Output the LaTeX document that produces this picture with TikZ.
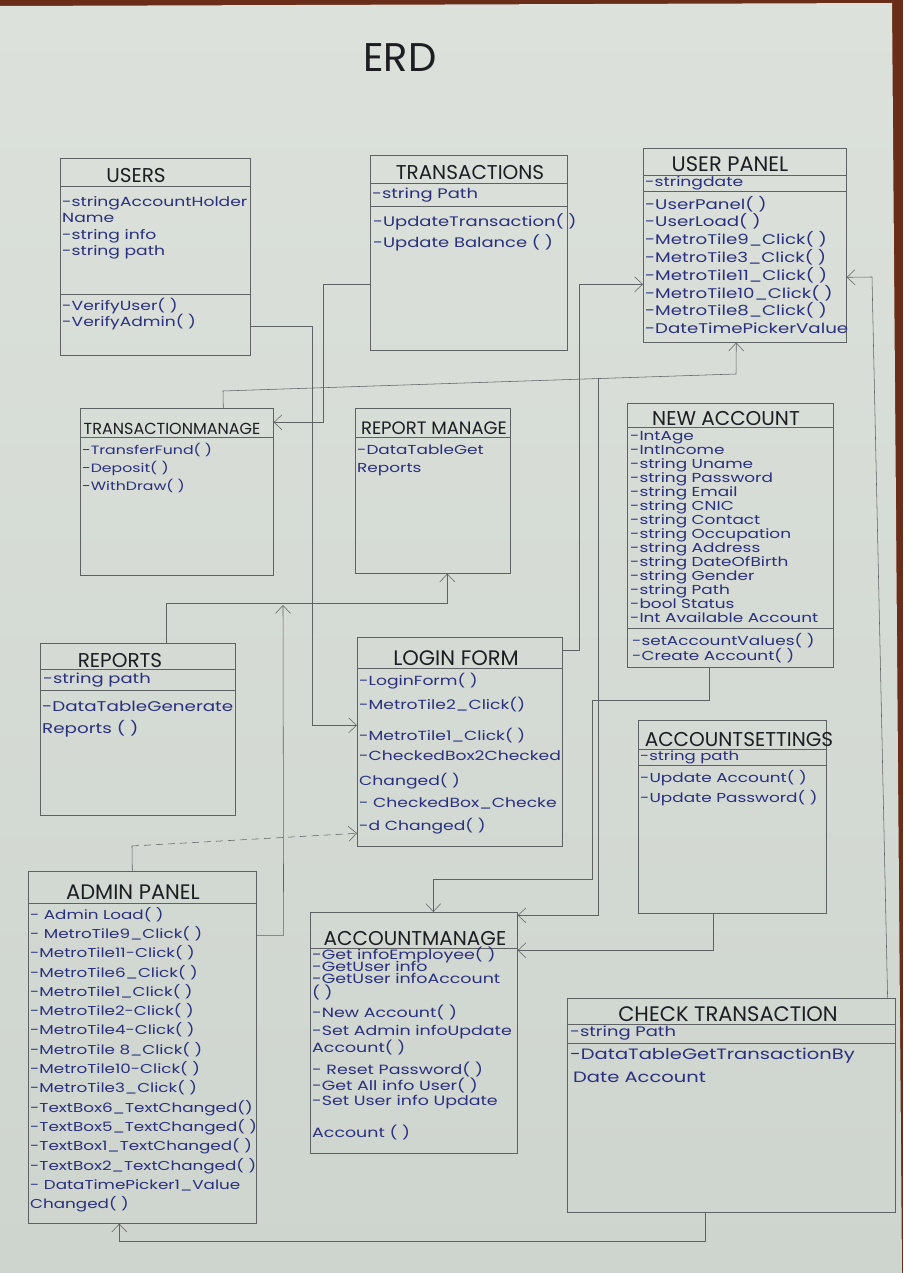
\documentclass[tikz,border=0pt]{standalone}
\usepackage{fontspec}
\usetikzlibrary{arrows.meta}
\newfontfamily\hand[FakeStretch=1.3]{Poppins}
\newfontfamily\handT{Poppins}
\newcommand\handsz[1]{\hand\fontsize{#1}{#1}\selectfont}
\newcommand\ttlsz[1]{\handT\fontsize{#1}{#1}\selectfont}
\definecolor{paperA}{RGB}{220,225,219}
\definecolor{paperB}{RGB}{206,212,206}
\definecolor{wood}{RGB}{105,45,25}
\definecolor{pencil}{RGB}{95,98,98}
\definecolor{ink}{RGB}{42,48,125}
\definecolor{titleink}{RGB}{28,30,34}
\tikzset{
 ent/.style={draw=pencil, line width=0.6pt, inner sep=0pt, anchor=north west},
 sepline/.style={draw=pencil, line width=0.5pt},
 conn/.style={draw=pencil, line width=0.55pt, -{Straight Barb[length=8pt,width=15pt,line width=0.55pt]}},
 plain/.style={draw=pencil, line width=0.55pt},
 ttl/.style={text=titleink, inner sep=0pt, anchor=base},
 txt/.style={text=ink, inner sep=0pt, anchor=mid west},
}
\begin{document}
\begin{tikzpicture}[x=1pt,y=-1pt]
\useasboundingbox (0,0) rectangle (903,1273);
\fill[wood] (0,0) rectangle (903,1273);
\shade[top color=paperA,bottom color=paperB] (0,6) -- (892,3) -- (902,1273) -- (0,1273) -- cycle;

% title
\node[ttl,font=\ttlsz{40}] (erd) at (400,72) {ERD};

% entity boxes
\node[ent, minimum width=190pt, minimum height=197pt] (users) at (60,158) {};
\node[ent, minimum width=197pt, minimum height=195pt] (trans) at (370,155) {};
\node[ent, minimum width=203pt, minimum height=194pt] (upanel) at (643,148) {};
\node[ent, minimum width=193pt, minimum height=167pt] (tman) at (80,408) {};
\node[ent, minimum width=155pt, minimum height=165pt] (rman) at (355,408) {};
\node[ent, minimum width=206pt, minimum height=264pt] (nacc) at (627,403) {};
\node[ent, minimum width=195pt, minimum height=172pt] (reports) at (40,643) {};
\node[ent, minimum width=205pt, minimum height=209pt] (login) at (357,637) {};
\node[ent, minimum width=188pt, minimum height=193pt] (aset) at (638,720) {};
\node[ent, minimum width=228pt, minimum height=352pt] (admin) at (28,871) {};
\node[ent, minimum width=207pt, minimum height=241pt] (aman) at (310,912) {};
\node[ent, minimum width=328pt, minimum height=214pt] (check) at (567,998) {};

% compartment separators
\draw[sepline] (60,186) -- (250,186);   \draw[sepline] (60,294) -- (250,294);
\draw[sepline] (370,183) -- (567,183);  \draw[sepline] (370,206) -- (567,206);
\draw[sepline] (643,175) -- (846,175);  \draw[sepline] (643,191) -- (846,191);
\draw[sepline] (80,437) -- (273,437);
\draw[sepline] (355,437) -- (510,437);
\draw[sepline] (627,427) -- (833,427);  \draw[sepline] (627,628) -- (833,628);
\draw[sepline] (40,669) -- (235,669);   \draw[sepline] (40,690) -- (235,690);
\draw[sepline] (357,668) -- (562,668);
\draw[sepline] (638,749) -- (826,749);  \draw[sepline] (638,765) -- (826,765);
\draw[sepline] (28,903) -- (256,903);
\draw[sepline] (310,948) -- (517,948);
\draw[sepline] (567,1024) -- (895,1024); \draw[sepline] (567,1043) -- (895,1043);

% titles
\node[ttl,font=\ttlsz{20}] (tusers) at (136,183) {USERS};
\node[ttl,font=\ttlsz{20}] (ttrans) at (470,180) {TRANSACTIONS};
\node[ttl,font=\ttlsz{21}] (tupanel) at (730,172) {USER PANEL};
\node[ttl,font=\ttlsz{16}] (ttman) at (172,434) {TRANSACTIONMANAGE};
\node[ttl,font=\ttlsz{18}] (trman) at (434,434) {REPORT MANAGE};
\node[ttl,font=\ttlsz{20}] (tnacc) at (726,425) {NEW ACCOUNT};
\node[ttl,font=\ttlsz{20}] (treports) at (120,667) {REPORTS};
\node[ttl,font=\ttlsz{21}] (tlogin) at (456,665) {LOGIN FORM};
\node[ttl,font=\ttlsz{20}] (taset) at (739,746) {ACCOUNTSETTINGS};
\node[ttl,font=\ttlsz{21}] (tadmin) at (133,899) {ADMIN PANEL};
\node[ttl,font=\ttlsz{20}] (taman) at (415,945) {ACCOUNTMANAGE};
\node[ttl,font=\ttlsz{21}] (tcheck) at (728,1021) {CHECK TRANSACTION};

% USERS
\foreach \lbl [count=\i] in {{-stringAccountHolder},{Name},{-string info},{-string path}}
  \node[txt,font=\handsz{13.2}] (ua\i) at (62,{204+16.5*(\i-1)}) {\lbl};
\foreach \lbl [count=\i] in {{-VerifyUser( )},{-VerifyAdmin( )}}
  \node[txt,font=\handsz{13.2}] (um\i) at (62,{308+16*(\i-1)}) {\lbl};

% TRANSACTIONS
\node[txt,font=\handsz{13.8}] (ta1) at (372,196) {-string Path};
\foreach \lbl [count=\i] in {{-UpdateTransaction( )},{-Update Balance ( )}}
  \node[txt,font=\handsz{13.8}] (tm\i) at (373,{224+21*(\i-1)}) {\lbl};

% USER PANEL
\node[txt,font=\handsz{13.2}] (upa1) at (645,184) {-stringdate};
\foreach \lbl [count=\i] in {{-UserPanel( )},{-UserLoad( )},{-MetroTile9\_Click( )},{-MetroTile3\_Click( )},{-MetroTile11\_Click( )},{-MetroTile10\_Click( )},{-MetroTile8\_Click( )},{-DateTimePickerValue}}
  \node[txt,font=\handsz{14}] (upm\i) at (645,{207+17.8*(\i-1)}) {\lbl};

% TRANSACTIONMANAGE
\foreach \lbl [count=\i] in {{-TransferFund( )},{-Deposit( )},{-WithDraw( )}}
  \node[txt,font=\handsz{12.1}] (tmm\i) at (82,{452+18*(\i-1)}) {\lbl};

% REPORT MANAGE
\foreach \lbl [count=\i] in {{-DataTableGet},{Reports}}
  \node[txt,font=\handsz{13}] (rmm\i) at (357,{452+18*(\i-1)}) {\lbl};

% NEW ACCOUNT
\foreach \lbl [count=\i] in {{-IntAge},{-IntIncome},{-string Uname},{-string Password},{-string Email},{-string CNIC},{-string Contact},{-string Occupation},{-string Address},{-string DateOfBirth},{-string Gender},{-string Path},{-bool Status},{-Int Available Account}}
  \node[txt,font=\handsz{13}] (naa\i) at (630,{438+14*(\i-1)}) {\lbl};
\foreach \lbl [count=\i] in {{-setAccountValues( )},{-Create Account( )}}
  \node[txt,font=\handsz{13}] (nam\i) at (632,{643+15*(\i-1)}) {\lbl};

% REPORTS
\node[txt,font=\handsz{13.8}] (rpa1) at (43,681) {-string path};
\foreach \lbl [count=\i] in {{-DataTableGenerate},{Reports ( )}}
  \node[txt,font=\handsz{14.1}] (rpm\i) at (42,{709+22*(\i-1)}) {\lbl};

% LOGIN FORM
\foreach \y/\lbl [count=\i] in {683/{-LoginForm( )},707/{-MetroTile2\_Click()},738/{-MetroTile1\_Click( )},758/{-CheckedBox2Checked},783/{Changed( )},805/{- CheckedBox\_Checke},828/{-d Changed( )}}
  \node[txt,font=\handsz{13.2}] (lfm\i) at (359,\y) {\lbl};

% ACCOUNT SETTINGS
\node[txt,font=\handsz{12.7}] (asa1) at (640,758) {-string path};
\foreach \lbl [count=\i] in {{-Update Account( )},{-Update Password( )}}
  \node[txt,font=\handsz{13}] (asm\i) at (640,{780+20*(\i-1)}) {\lbl};

% ADMIN PANEL
\foreach \lbl [count=\i] in {{- Admin Load( )},{- MetroTile9\_Click( )},{-MetroTile11-Click( )},{-MetroTile6\_Click( )},{-MetroTile1\_Click( )},{-MetroTile2-Click( )},{-MetroTile4-Click( )},{-MetroTile 8\_Click( )},{-MetroTile10-Click( )},{-MetroTile3\_Click( )},{-TextBox6\_TextChanged()},{-TextBox5\_TextChanged( )},{-TextBox1\_TextChanged( )},{-TextBox2\_TextChanged( )},{- DataTimePicker1\_Value},{Changed( )}}
  \node[txt,font=\handsz{12.9}] (apm\i) at (30,{917+19.3*(\i-1)}) {\lbl};

% ACCOUNT MANAGE
\foreach \y/\lbl [count=\i] in {957/{-Get infoEmployee( )},969/{-GetUser info},981/{-GetUser infoAccount},995/{( )},1015/{-New Account( )},1033/{-Set Admin infoUpdate},1050/{Account( )},1072/{- Reset Password( )},1088/{-Get All info User( )},1103/{-Set User info Update},1135/{Account ( )}}
  \node[txt,font=\handsz{13.4}] (amm\i) at (312,\y) {\lbl};

% CHECK TRANSACTION
\node[txt,font=\handsz{13.8}] (cta1) at (570,1034) {-string Path};
\node[txt,font=\handsz{15}] (ctm1) at (570,1057) {-DataTableGetTransactionBy};
\node[txt,font=\handsz{15}] (ctm2) at (573,1080) {Date Account};

% connectors
\coordinate (j1) at (223,391);
\coordinate (j2) at (736,374);
\coordinate (j3) at (598,378);
\coordinate (j4) at (872,277);
\coordinate (j5) at (132,846);
\coordinate (j6) at (283,605);

\draw[conn] ([yshift=-69.5pt]users.east) -- ++(62,0) |- ([yshift=16.5pt]login.west);
\draw[conn] ([yshift=-31.5pt]trans.west) -- ++(-47,0) |- ([yshift=69.5pt]tman.east);
\draw[conn] ([xshift=46.5pt]tman.north) -- (j1) -- (j2) -- ([xshift=-8.5pt]upanel.south);
\draw[conn] (j3) |- ([yshift=117.5pt]aman.east);
\draw[conn] ([yshift=91.5pt]login.east) -- ++(17,0) |- ([yshift=-39pt]upanel.west);
\draw[conn] ([xshift=-21pt]nacc.south) -- ++(0,33) -- ++(-117,0) -- ++(0,179) -| ([xshift=19.5pt]aman.north);
\draw[conn] ([xshift=-19pt]aset.south) |- ([yshift=82.5pt]aman.east);
\draw[conn] ([xshift=-8pt]check.north east) -- (j4) -- ([yshift=-32pt]upanel.east);
\draw[conn] ([xshift=-26pt]check.south) -- ++(0,29) -| ([xshift=-23pt]admin.south);
\draw[plain] ([xshift=-10pt]admin.north) -- (j5);
\draw[conn,dash pattern=on 7pt off 5pt] (j5) -- ([yshift=-91.5pt]login.west);
\draw[conn] ([xshift=28.5pt]reports.north) -- ++(0,-40) -| ([xshift=14.5pt]rman.south);
\draw[conn] ([yshift=112pt]admin.east) -- ++(27,0) -- (j6);
\end{tikzpicture}
\end{document}
